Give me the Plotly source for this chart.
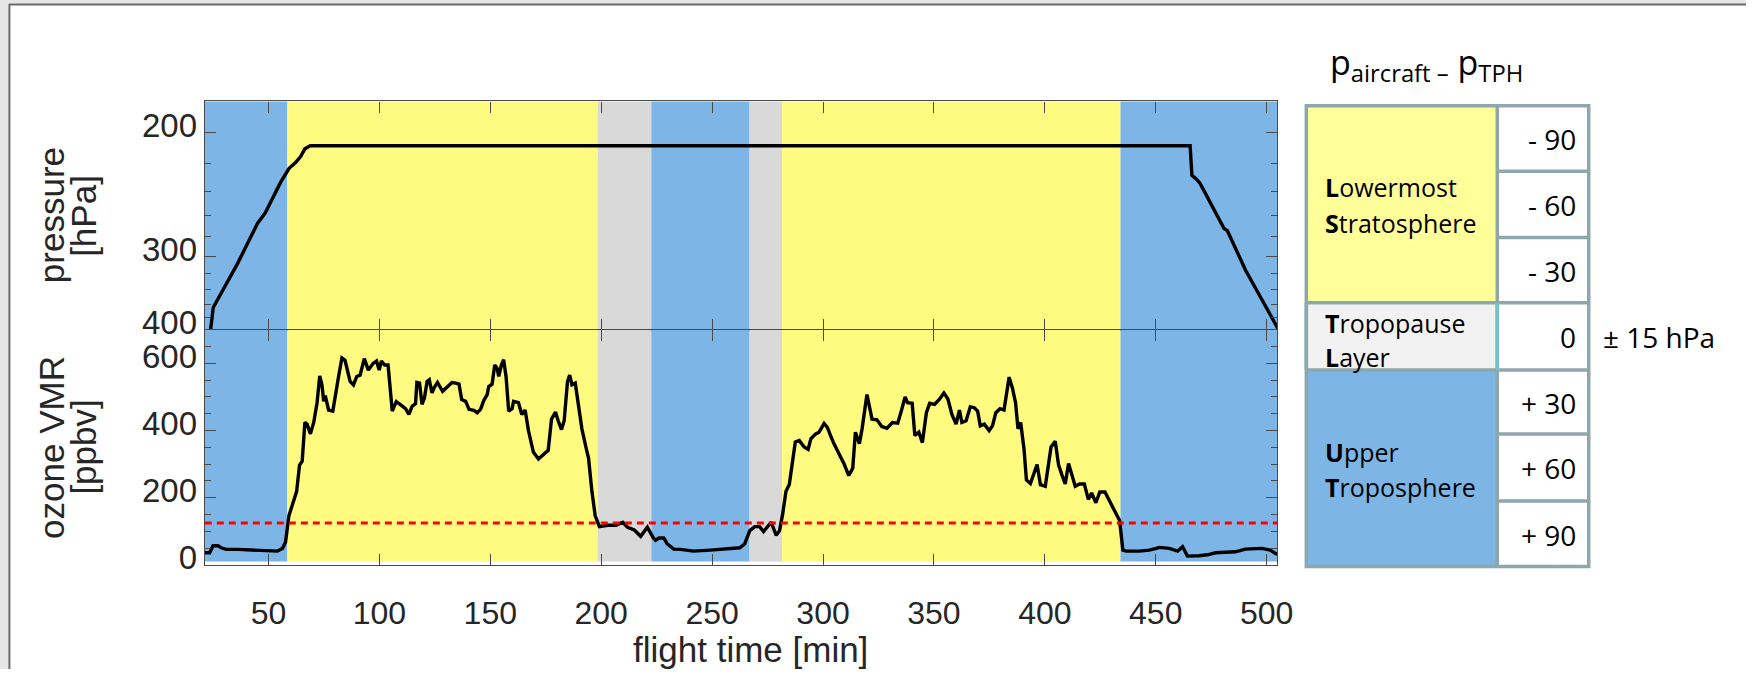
import numpy as np
import plotly.graph_objects as go

# ---------------- data ----------------
# flight time [min] and aircraft pressure [hPa]
p_time = [23.9, 25.1, 36.1, 45.1, 48.5, 55.5, 59.3, 62.2, 64.5, 66.4, 68.9,
          465.5, 466.3, 468.5, 470.0, 480.8, 482.3, 490.5, 505.4]
p_hpa = [400, 365, 308, 267, 258, 233, 223, 219, 215, 210, 208,
         208, 228, 231, 234, 272, 274, 316, 400]

# flight time [min] and ozone VMR [ppbv]
o3_time = [21.3, 23.5, 25, 27.2, 28.7, 30.9, 36.1, 42.1, 48.1, 54,
           56.3, 57.7, 59.2, 60.7, 62.7, 64, 65.2, 66.4, 67.4, 68.9,
           70.4, 71.9, 73.1, 74.1, 74.9, 75.6, 77.1, 79, 80.5, 81.6,
           83.1, 84.5, 86.8, 88.3, 89.8, 91.3, 93.2, 95, 97.2, 98.7,
           99.9, 100.9, 102.4, 103.9, 105.8, 107.6, 109.9, 111.8, 113.3, 114.8,
           116.3, 116.9, 118.1, 119.2, 120.3, 121.5, 122.5, 123.7, 124.8, 126.2,
           128.5, 130.7, 132.7, 134.4, 135.9, 137.1, 138.9, 140.4, 142.6, 144.1,
           145.6, 147.1, 148.6, 149.3, 150.8, 152, 153.1, 153.8, 155, 156,
           157.1, 158.3, 159.8, 160.5, 161.5, 162.7, 164.2, 165.7, 167.2, 169.4,
           171.7, 173.9, 176.1, 177.6, 179.4, 180.6, 182.1, 183.3, 184.8, 185.8,
           186.8, 188.3, 189.5, 191.3, 193.2, 194.3, 195.8, 197.3, 199.2, 203,
           206.7, 209.7, 211.9, 214.9, 217.8, 220.8, 223.5, 224.5, 226, 228.2,
           229.7, 232.7, 235.7, 241.6, 249.1, 256.5, 262.5, 264.7, 267, 269.2,
           271.4, 273.2, 275.1, 276.6, 278.9, 280.4, 281.8, 283.3, 284.8, 286,
           287.5, 289.3, 291.5, 293.3, 294.5, 296.7, 298.2, 300.5, 302, 303.4,
           304.9, 307.2, 309.4, 311.6, 313.4, 314.6, 316.4, 317.6, 319.8, 322.1,
           324.3, 326.5, 328.8, 331.3, 333.7, 335.5, 337, 338.1, 340.2, 341.4,
           343.2, 344.8, 346.6, 348.1, 350.3, 352.6, 354.5, 356.3, 358.1, 360,
           361.5, 362.6, 364.5, 366.4, 368.2, 369.7, 370.9, 372.7, 374.9, 376.4,
           377.9, 379.8, 381.6, 383.9, 385.4, 386.8, 387.9, 389.1, 390.6, 391.7,
           393.5, 396.5, 398, 400.2, 402.8, 404.7, 406.2, 407.7, 409.2, 410.7,
           412.2, 413.7, 415.6, 417.8, 419.6, 421.1, 423, 424.8, 427.1, 428.5,
           431.5, 433.7, 435.2, 436.7, 442.7, 447.1, 450.2, 451.7, 456.1, 459.9,
           462.1, 464.3, 469.5, 473.3, 477, 485.9, 490.4, 497.8, 501.6, 504.8]
o3_ppbv = [36, 36, 57, 57, 51, 46, 46, 44, 41, 41,
           49, 68, 146, 175, 219, 297, 309, 424, 419, 390,
           424, 483, 563, 536, 487, 504, 461, 458, 522, 561,
           616, 609, 546, 536, 561, 565, 614, 580, 600, 607,
           580, 607, 595, 595, 458, 486, 475, 465, 448, 473,
           480, 543, 541, 478, 497, 546, 551, 512, 529, 543,
           517, 531, 543, 541, 538, 492, 487, 463, 460, 453,
           463, 490, 507, 531, 538, 595, 585, 561, 595, 611,
           561, 458, 465, 487, 484, 483, 448, 461, 400, 336,
           315, 327, 341, 434, 455, 429, 403, 429, 546, 565,
           536, 541, 492, 405, 348, 317, 219, 146, 114, 118,
           118, 127, 112, 104, 85, 112, 80, 73, 80, 80,
           63, 47, 46, 41, 44, 48, 51, 63, 102, 114,
           114, 99, 117, 127, 88, 102, 151, 219, 239, 297,
           366, 370, 351, 344, 375, 390, 395, 421, 409, 385,
           361, 331, 302, 266, 288, 395, 361, 405, 507, 434,
           432, 412, 407, 424, 422, 463, 500, 483, 481, 385,
           395, 364, 453, 481, 478, 494, 512, 494, 448, 419,
           461, 424, 429, 471, 468, 458, 414, 419, 400, 414,
           453, 465, 461, 559, 526, 483, 405, 424, 346, 253,
           242, 299, 239, 234, 351, 368, 297, 268, 241, 302,
           268, 234, 241, 241, 195, 214, 185, 217, 217, 200,
           161, 132, 44, 41, 41, 44, 49, 52, 49, 41,
           54, 26, 27, 30, 36, 39, 47, 49, 44, 31]

o3_threshold = 125  # ppbv

# atmospheric regions along the flight
region_edges = [21.3, 58.5, 198.5, 222.6, 266.9, 281.5, 434.1, 504.8]
region_kind = ["UT", "LMS", "TPL", "UT", "TPL", "LMS", "UT"]

x_ticks = [50, 100, 150, 200, 250, 300, 350, 400, 450, 500]
p_major = [200, 300, 400]
p_minor = [220, 240, 260, 280, 320, 340, 360, 380]
o3_major = [0, 200, 400, 600]

table_rows = ["- 90", "- 60", "- 30", "0", "+ 30", "+ 60", "+ 90"]

# ---------------- styling ----------------
W, H = 1762, 681
def px(x): return x / W
def py(y): return 1 - y / H

region_color = {"UT": "#7DB6E6", "LMS": "#FFFA80", "TPL": "#D9D9D9"}
AX = "#4a4a4a"
TXT = "#262626"
FONT = "Liberation Sans, Arial, Helvetica, sans-serif"
CAL = "Open Sans, Lato, sans-serif"

def ptrans(p):
    return 1.0 / np.sqrt(np.asarray(p, dtype=float))

fig = go.Figure()
fig.add_trace(go.Scatter(x=p_time, y=ptrans(p_hpa), mode="lines",
                         line=dict(color="black", width=3.4),
                         xaxis="x", yaxis="y", showlegend=False, hoverinfo="skip"))
fig.add_trace(go.Scatter(x=o3_time, y=o3_ppbv, mode="lines",
                         line=dict(color="black", width=3.4),
                         xaxis="x2", yaxis="y2", showlegend=False, hoverinfo="skip"))

shapes = []
for i, kind in enumerate(region_kind):
    x0, x1 = region_edges[i], region_edges[i + 1]
    shapes.append(dict(type="rect", xref="x", yref="y domain", x0=x0, x1=x1, y0=0, y1=1,
                       fillcolor=region_color[kind], line=dict(width=0), layer="below"))
    shapes.append(dict(type="rect", xref="x2", yref="y2", x0=x0, x1=x1, y0=10, y1=700,
                       fillcolor=region_color[kind], line=dict(width=0), layer="below"))
shapes.append(dict(type="line", xref="x2 domain", yref="y2", x0=0, x1=1,
                   y0=o3_threshold, y1=o3_threshold,
                   line=dict(color="#FF0000", width=3, dash="7px,5px"), layer="above"))

# window frame
shapes += [
    dict(type="rect", xref="paper", yref="paper", x0=0, x1=px(9), y0=0, y1=1,
         fillcolor="#e6e6e6", line=dict(width=0)),
    dict(type="rect", xref="paper", yref="paper", x0=0, x1=1, y0=py(4), y1=1,
         fillcolor="#e6e6e6", line=dict(width=0)),
    dict(type="line", xref="paper", yref="paper", x0=px(9.5), x1=px(9.5), y0=0, y1=py(4),
         line=dict(color="#6a6a6a", width=2)),
    dict(type="line", xref="paper", yref="paper", x0=px(9), x1=1, y0=py(4.5), y1=py(4.5),
         line=dict(color="#6a6a6a", width=2)),
]

# table
tl, tm, tr = 1318.3, 1511, 1603.3
row_y = [107.7, 174.3, 241.7, 308.3, 376.7, 441.7, 510, 576.7]
BORD = "#8DA7AB"
def prect(x0, x1, y0, y1, fill, lc=BORD, lw=0):
    return dict(type="rect", xref="paper", yref="paper", x0=px(x0), x1=px(x1),
                y0=py(y1), y1=py(y0), fillcolor=fill, line=dict(width=lw, color=lc))
def pline(x0, x1, y0, y1, color=BORD, w=3.5):
    return dict(type="line", xref="paper", yref="paper", x0=px(x0), x1=px(x1),
                y0=py(y0), y1=py(y1), line=dict(color=color, width=w))
shapes.append(prect(tl, tm, row_y[0], row_y[3], "#FFFF99"))
shapes.append(prect(tl, tm, row_y[3], row_y[4], "#F2F2F2"))
shapes.append(prect(tl, tm, row_y[4], row_y[7], "#7DB5E5"))
shapes.append(prect(tm, tr, row_y[0], row_y[7], "white"))
for yy in row_y[1:-1]:
    shapes.append(pline(tm, tr, yy, yy))
shapes.append(pline(tl, tm, row_y[3], row_y[3]))
shapes.append(pline(tl, tm, row_y[4], row_y[4]))
shapes.append(pline(tm, tm, row_y[0], row_y[7]))
shapes.append(pline(tl, tl, row_y[3], row_y[4], color="#71C2C9"))
shapes.append(pline(tm, tm, row_y[3], row_y[4], color="#71C2C9"))
shapes.append(dict(type="rect", xref="paper", yref="paper", x0=px(tl), x1=px(tr),
                   y0=py(row_y[7]), y1=py(row_y[0]), line=dict(color=BORD, width=3.5)))

ann = []
def t(text, x, y, size, xa="center", angle=0, family=FONT, color=TXT):
    ann.append(dict(text=text, x=px(x), y=py(y), xref="paper", yref="paper",
                    showarrow=False, xanchor=xa, yanchor="middle", textangle=angle,
                    font=dict(family=family, size=size, color=color)))

t("pressure", 52, 219.5, 35, angle=-90)
t("[hPa]", 84, 219.5, 35, angle=-90)
t("ozone VMR", 52, 455.4, 35, angle=-90)
t("[ppbv]", 84, 455.4, 35, angle=-90)
t("flight time [min]", 757, 661, 35)

t("p<sub>aircraft –</sub> p<sub>TPH</sub>", 1340, 65, 34, xa="left", family=CAL, color="black")
t("<b>L</b>owermost", 1335, 190.7, 25, xa="left", family=CAL, color="black")
t("<b>S</b>tratosphere", 1335, 226.7, 25, xa="left", family=CAL, color="black")
t("<b>T</b>ropopause", 1335, 328.3, 25, xa="left", family=CAL, color="black")
t("<b>L</b>ayer", 1335, 363.3, 25, xa="left", family=CAL, color="black")
t("<b>U</b>pper", 1335, 460, 25, xa="left", family=CAL, color="black")
t("<b>T</b>roposphere", 1335, 496, 25, xa="left", family=CAL, color="black")
for i, lab in enumerate(table_rows):
    t(lab, 1592, (row_y[i] + row_y[i + 1]) / 2 + 1, 28, xa="right", family=CAL, color="black")
t("± 15 hPa", 1616, 343, 28, xa="left", family=CAL, color="black")

common_x = dict(range=[region_edges[0], region_edges[-1]], tickmode="array", tickvals=x_ticks,
                ticks="inside", ticklen=11, tickwidth=1.3, tickcolor=AX,
                showline=True, linecolor=AX, linewidth=1.4, mirror="ticks",
                showgrid=False, zeroline=False)
common_y = dict(ticks="inside", ticklen=11, tickwidth=1.3, tickcolor=AX,
                showline=True, linecolor=AX, linewidth=1.4, mirror="ticks",
                showgrid=False, zeroline=False,
                tickfont=dict(family=FONT, size=33, color=TXT), ticklabelshift=-7)

fig.update_layout(
    width=W, height=H, margin=dict(l=0, r=0, t=0, b=0),
    paper_bgcolor="white", plot_bgcolor="white", showlegend=False,
    xaxis=dict(domain=[px(206.7), px(1289)], anchor="y", showticklabels=False, **common_x),
    xaxis2=dict(domain=[px(206.7), px(1289)], anchor="y2", showticklabels=True,
                tickfont=dict(family=FONT, size=32, color=TXT), ticklabelstandoff=20, **common_x),
    yaxis=dict(domain=[py(335.7), py(103.3)], anchor="x",
               range=[float(ptrans(400)), float(ptrans(182.7))],
               tickmode="array", tickvals=list(ptrans(p_major)), ticktext=[str(v) for v in p_major],
               minor=dict(tickmode="array", tickvals=list(ptrans(p_minor)), ticks="inside",
                          ticklen=6, tickwidth=1.2, tickcolor=AX, showgrid=False),
               **common_y),
    yaxis2=dict(domain=[py(575), py(335.7)], anchor="x2", range=[0, 700],
                tickmode="array", tickvals=o3_major,
                minor=dict(dtick=50, ticks="inside", ticklen=6, tickwidth=1.2,
                           tickcolor=AX, showgrid=False),
                **common_y),
    shapes=shapes, annotations=ann,
)

fig.write_html("out.html")
